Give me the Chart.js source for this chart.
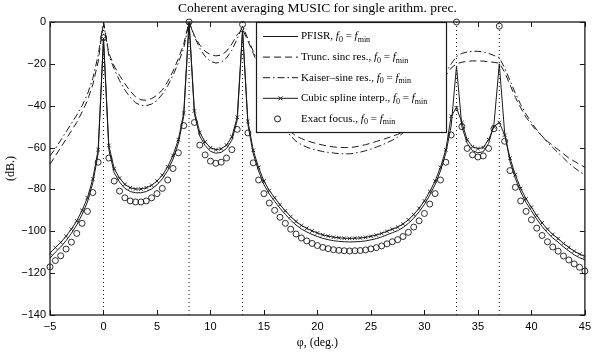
<!DOCTYPE html>
<html>
<head>
<meta charset="utf-8">
<script src="https://cdn.jsdelivr.net/npm/chart.js@4.4.1/dist/chart.umd.min.js"></script>
<style>
    html, body { margin: 0; padding: 0; background: #fff; }
    #wrap { width: 596px; height: 356px; }
</style>
</head>
<body>
<div id="wrap"><canvas id="musicChart" width="596" height="356"></canvas></div>
<script>
// Data, dB vs. angle in degrees
const angles = [
    -5, -4.5, -4, -3.5, -3, -2.5, -2, -1.5, -1, -0.5,
    0, 0.5, 1, 1.5, 2, 2.5, 3, 3.5, 4, 4.5,
    5, 5.5, 6, 6.5, 7, 7.5, 8, 8.5, 9, 9.5,
    10, 10.5, 11, 11.5, 12, 12.5, 13, 13.5, 14, 14.5,
    15, 15.5, 16, 16.5, 17, 17.5, 18, 18.5, 19, 19.5,
    20, 20.5, 21, 21.5, 22, 22.5, 23, 23.5, 24, 24.5,
    25, 25.5, 26, 26.5, 27, 27.5, 28, 28.5, 29, 29.5,
    30, 30.5, 31, 31.5, 32, 32.5, 33, 33.5, 34, 34.5,
    35, 35.5, 36, 36.5, 37, 37.5, 38, 38.5, 39, 39.5,
    40, 40.5, 41, 41.5, 42, 42.5, 43, 43.5, 44, 44.5,
    45
];

const pfisr = [
    -112.8, -110, -107.5, -104.5, -101, -97, -92, -86, -77, -63,
    -8, -61, -72, -76.5, -79.5, -81, -81.6, -81.6, -81, -79.8,
    -77.8, -75, -71, -65.5, -58, -45, 0, -44, -54.5, -59,
    -61.8, -62.7, -62.3, -60.5, -56.5, -47, -4, -49, -63, -71.2,
    -77.7, -82.2, -85.7, -89, -91.9, -94.7, -97, -98.9, -100.3, -101.5,
    -102.5, -103.4, -104, -104.5, -104.8, -105, -105.1, -105, -104.9, -104.6,
    -104.1, -103.5, -102.7, -101.7, -100.7, -99.7, -98.2, -96.2, -93.7, -90.7,
    -87.2, -82.7, -77.7, -71.2, -62.7, -49.7, -21, -50, -58, -61.5,
    -62.5, -62, -58, -49, -20, -53, -66.7, -74.7, -81.2, -86.2,
    -90.2, -94.2, -97.7, -100.7, -103.2, -105.2, -107.5, -109.4, -111.3, -112.6,
    -113.7
];

const truncSinc = [
    -68, -64, -60, -56, -52, -48, -43, -37.5, -30, -19,
    0, -15, -21, -25.5, -29.5, -33, -35.8, -37.2, -37.4, -36.6,
    -35, -32.5, -28.5, -23.5, -17.5, -10.5, 0, -6.5, -11, -14,
    -15.6, -16.2, -15.8, -14, -10.5, -6, -3.5, -9, -15, -21,
    -28, -34, -40, -45, -49.5, -52.5, -54.5, -55.7, -56.7, -57.5,
    -58.2, -58.8, -59.3, -59.7, -59.9, -60, -60, -59.7, -59.2, -58.6,
    -57.9, -57.1, -56.3, -55.5, -54.6, -53.7, -52.5, -50.5, -48, -45,
    -41.5, -37.5, -33.5, -29.5, -25.5, -22, -20, -19.2, -18.8, -18.6,
    -18.6, -18.7, -19, -19.3, -19.6, -24, -30, -36, -41, -45.5,
    -49, -52, -54.5, -57, -59, -61, -63, -65, -66.5, -68,
    -69.5
];

const kaiserSinc = [
    -64, -60.5, -56.5, -52.5, -48.5, -44.5, -40, -34.5, -27, -16,
    0, -16, -22.5, -28, -32.5, -36, -38.6, -39.8, -40, -39.2,
    -37.5, -34.5, -30.5, -25.5, -19.5, -12.5, 0, -7, -12.5, -16.5,
    -18.8, -19.6, -19.2, -17.2, -13.5, -8, -2, -8, -14, -20,
    -27, -33.5, -40, -46, -51, -54.5, -57, -58.6, -59.8, -60.7,
    -61.3, -61.9, -62.3, -62.6, -62.9, -63, -63, -62.7, -62.2, -61.5,
    -60.7, -59.8, -58.8, -57.7, -56.5, -55, -53, -50.5, -47.5, -44,
    -40, -36, -32, -28, -24, -20, -16.5, -15, -14.3, -14,
    -14, -14.3, -15, -16, -17, -22, -28, -34, -39.5, -44,
    -48, -51.5, -54.5, -57.5, -60, -62.5, -65, -67.5, -69.5, -71.5,
    -73
];

const cubicSpline = [
    -110.4, -107.8, -105.3, -102.4, -99, -95, -90, -84, -75, -61,
    -8, -59, -70, -74.6, -77.6, -79.2, -79.8, -79.8, -79.2, -78,
    -76, -73.2, -69.2, -63.7, -56.2, -43.5, 0, -42.5, -52.8, -57.3,
    -60.1, -61, -60.6, -58.8, -54.8, -45.5, -4, -47.5, -61.3, -69.5,
    -76, -80.5, -84, -87.3, -90.2, -93, -95.3, -97.2, -98.6, -99.8,
    -100.8, -101.7, -102.3, -102.8, -103.1, -103.3, -103.4, -103.3, -103.2, -102.9,
    -102.4, -101.8, -101, -100, -99, -98, -96.5, -94.5, -92, -89,
    -85.5, -81, -76, -69.5, -61, -45, -41, -48, -56.3, -59.6,
    -60.5, -60, -56.2, -50, -48, -54, -65, -73, -79.5, -84.5,
    -88.5, -92.5, -96, -99, -101.5, -103.5, -105.8, -107.7, -109.5, -110.9,
    -112
];

const exactFocus = [
    -117, -114, -111.7, -108.5, -105.2, -101, -96.2, -90.5, -81.5, -67,
    -7.5, -65, -76, -80.8, -84, -85.5, -86, -86, -85.5, -84,
    -82, -79.5, -75.5, -70, -62.5, -49.5, 0, -48, -58.8, -63.5,
    -66.5, -67.5, -67, -65, -61, -51.3, -1.2, -53, -67.3, -75.5,
    -82, -86.5, -90, -93.3, -96.2, -99, -101.3, -103.2, -104.6, -105.8,
    -106.8, -107.7, -108.3, -108.8, -109.1, -109.3, -109.4, -109.3, -109.2, -108.9,
    -108.4, -107.8, -107, -106, -105, -104, -102.5, -100.5, -98, -95,
    -91.5, -87, -82, -75.5, -67, -54, 0, -50, -60.4, -63.5,
    -64.5, -64, -60.4, -51, -2, -57, -71, -79, -85.5, -90.5,
    -94.5, -98.5, -102, -105, -107.5, -109.5, -111.8, -113.7, -115.6, -117.2,
    -119
];

// true source directions (dotted markers)
const sources = [0, 8, 13, 33, 37];

const xTicks = [-5, 0, 5, 10, 15, 20, 25, 30, 35, 40, 45];
const yTicks = [0, -20, -40, -60, -80, -100, -120, -140];

const INK = '#1a1a1a';
const SERIF = "'Liberation Serif', 'Times New Roman', serif";
const SANS = "'Liberation Sans', Arial, sans-serif";

const toPoints = vals => vals.map((v, i) => ({ x: angles[i], y: v }));
const minusSign = v => String(v).replace('-', '\u2212');

// Chart Setup
const datasets = [
    {
        label: 'PFISR, ',
        data: toPoints(pfisr),
        borderColor: INK, borderWidth: 1, pointRadius: 0
    },
    {
        label: 'Trunc. sinc res., ',
        data: toPoints(truncSinc),
        borderColor: INK, borderWidth: 1, borderDash: [7, 4], pointRadius: 0
    },
    {
        label: 'Kaiser\u2013sine res., ',
        data: toPoints(kaiserSinc),
        borderColor: INK, borderWidth: 1, borderDash: [7, 3, 1.5, 3], pointRadius: 0
    },
    {
        label: 'Cubic spline interp., ',
        data: toPoints(cubicSpline),
        borderColor: INK, borderWidth: 1,
        pointStyle: 'crossRot', pointRadius: 2.5, pointBorderWidth: 0.9,
        pointBorderColor: INK
    },
    {
        label: 'Exact focus., ',
        data: toPoints(exactFocus),
        showLine: false, clip: false,
        pointStyle: 'circle', pointRadius: 3, pointBorderWidth: 0.9,
        pointBorderColor: INK, pointBackgroundColor: 'rgba(0,0,0,0)'
    }
];

sources.forEach(s => {
    datasets.push({
        label: '',
        data: [{ x: s, y: yTicks[0] }, { x: s, y: yTicks[yTicks.length - 1] }],
        borderColor: INK, borderWidth: 1, borderDash: [1, 3], pointRadius: 0
    });
});

// inward ticks + box, like a matlab axes
const frameTicks = {
    id: 'frameTicks',
    afterDatasetsDraw(chart) {
        const { ctx, chartArea: a, scales } = chart;
        const len = 5;
        ctx.save();
        ctx.strokeStyle = INK;
        ctx.lineWidth = 1;
        ctx.beginPath();
        xTicks.forEach(v => {
            const px = Math.round(scales.x.getPixelForValue(v)) + 0.5;
            ctx.moveTo(px, a.bottom); ctx.lineTo(px, a.bottom - len);
            ctx.moveTo(px, a.top); ctx.lineTo(px, a.top + len);
        });
        yTicks.forEach(v => {
            const py = Math.round(scales.y.getPixelForValue(v)) + 0.5;
            ctx.moveTo(a.left, py); ctx.lineTo(a.left + len, py);
            ctx.moveTo(a.right, py); ctx.lineTo(a.right - len, py);
        });
        ctx.stroke();
        ctx.lineWidth = 1.3;
        ctx.strokeRect(a.left, a.top, a.right - a.left, a.bottom - a.top);
        ctx.restore();
    }
};

// legend box inside the axes with f_0 = f_min subscripts
const insetLegend = {
    id: 'insetLegend',
    afterDatasetsDraw(chart) {
        const { ctx, chartArea: a } = chart;
        const box = { left: a.left + 206, top: a.top, w: 190, h: 110 };
        ctx.save();
        ctx.fillStyle = '#fff';
        ctx.fillRect(box.left, box.top, box.w, box.h);
        ctx.strokeStyle = INK;
        ctx.lineWidth = 1.2;
        ctx.strokeRect(box.left + 0.5, box.top + 0.5, box.w, box.h);

        const items = chart.data.datasets.slice(0, 5);
        items.forEach((ds, i) => {
            const y = box.top + 14.5 + i * 20.6;
            const x0 = box.left + 7, x1 = box.left + 42;
            const xm = (x0 + x1) / 2;
            ctx.strokeStyle = INK;
            ctx.lineWidth = 1;
            if (ds.showLine !== false) {
                ctx.setLineDash(ds.borderDash || []);
                ctx.beginPath();
                ctx.moveTo(x0, y); ctx.lineTo(x1, y);
                ctx.stroke();
                ctx.setLineDash([]);
            }
            if (ds.pointStyle === 'crossRot') {
                ctx.beginPath();
                ctx.moveTo(xm - 2, y - 2); ctx.lineTo(xm + 2, y + 2);
                ctx.moveTo(xm - 2, y + 2); ctx.lineTo(xm + 2, y - 2);
                ctx.stroke();
            } else if (ds.pointStyle === 'circle') {
                ctx.beginPath();
                ctx.arc(xm - 3, y, 3, 0, Math.PI * 2);
                ctx.stroke();
            }

            // label text
            let tx = box.left + 45;
            ctx.fillStyle = '#000';
            ctx.textBaseline = 'middle';
            ctx.textAlign = 'left';
            const put = (txt, font, dy) => {
                ctx.font = font;
                ctx.fillText(txt, tx, y + dy);
                tx += ctx.measureText(txt).width;
            };
            put(ds.label, '11px ' + SERIF, 0);
            put('f', 'italic 11px ' + SERIF, 0);
            put('0', '8px ' + SERIF, 3.5);
            put(' = ', '11px ' + SERIF, 0);
            put('f', 'italic 11px ' + SERIF, 0);
            put('min', '8px ' + SERIF, 3.5);
        });
        ctx.restore();
    }
};

new Chart(document.getElementById('musicChart'), {
    type: 'line',
    data: { datasets },
    options: {
        responsive: false,
        animation: false,
        devicePixelRatio: 1,
        layout: { padding: { left: 0, right: 6, top: 0, bottom: 0 } },
        elements: { line: { tension: 0 } },
        scales: {
            x: {
                type: 'linear',
                min: xTicks[0],
                max: xTicks[xTicks.length - 1],
                afterBuildTicks: s => { s.ticks = xTicks.map(v => ({ value: v })); },
                afterFit: s => { s.height = 41; },
                grid: { display: false, drawTicks: false },
                border: { display: false },
                ticks: {
                    color: '#000', padding: 5, maxRotation: 0,
                    font: { family: SANS, size: 11 },
                    callback: minusSign
                },
                title: {
                    display: true, text: '\u03c6, (deg.)', color: '#000',
                    font: { family: SERIF, size: 12 },
                    padding: { top: 0, bottom: 6 }
                }
            },
            y: {
                min: yTicks[yTicks.length - 1],
                max: yTicks[0],
                afterBuildTicks: s => { s.ticks = yTicks.map(v => ({ value: v })); },
                afterFit: s => { s.width = 50; },
                grid: { display: false, drawTicks: false },
                border: { display: false },
                ticks: {
                    color: '#000', padding: 4,
                    font: { family: SANS, size: 11 },
                    callback: minusSign
                },
                title: {
                    display: true, text: '(dB.)', color: '#000',
                    font: { family: SERIF, size: 12 },
                    padding: { top: 4, bottom: 0 }
                }
            }
        },
        plugins: {
            legend: { display: false },
            tooltip: { enabled: false },
            title: {
                display: true,
                fullSize: false,
                text: 'Coherent averaging MUSIC for single arithm. prec.',
                color: '#000',
                font: { family: SERIF, size: 13.5, weight: 'normal' },
                padding: { top: 0, bottom: 5.8 }
            }
        }
    },
    plugins: [frameTicks, insetLegend]
});
</script>
</body>
</html>
